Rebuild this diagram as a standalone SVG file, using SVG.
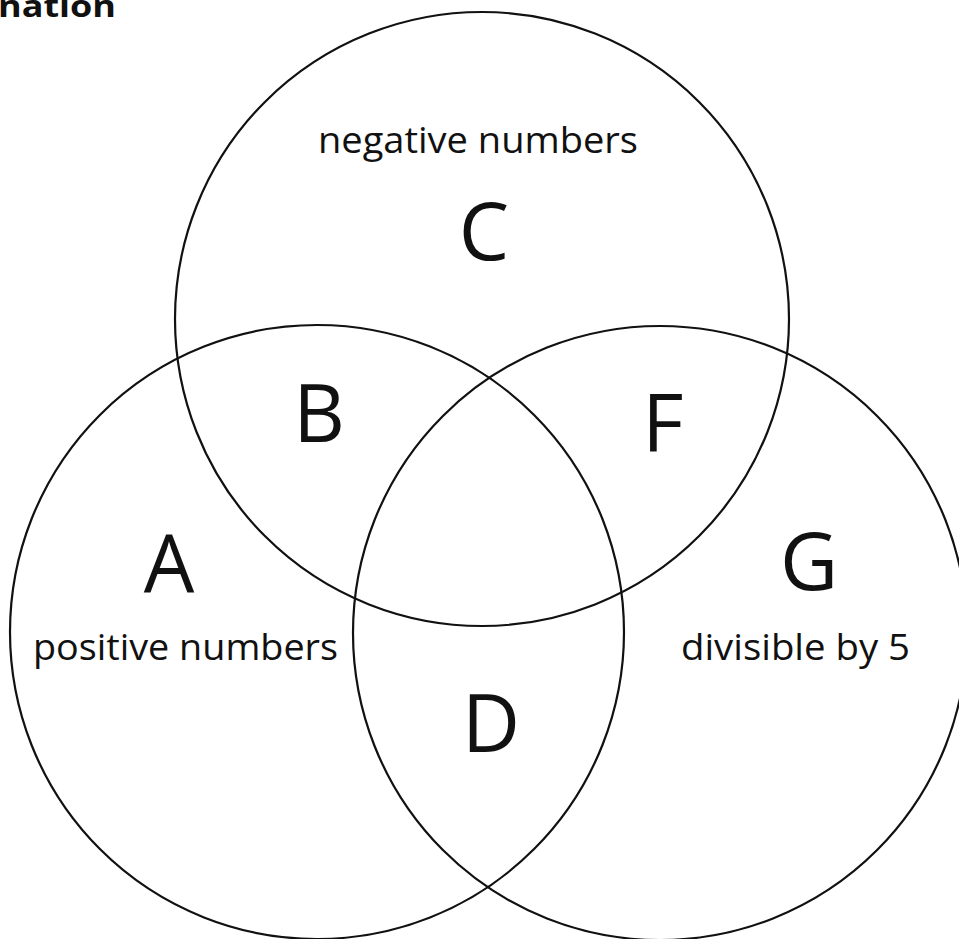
<svg xmlns="http://www.w3.org/2000/svg" width="959" height="939" viewBox="0 0 959 939">
<style>
.set{fill:none;stroke:#111;stroke-width:2.2}
.big{font-family:"Open Sans","Liberation Sans",sans-serif;font-size:80px;fill:#111;text-anchor:middle}
.lbl{font-family:"Open Sans","Liberation Sans",sans-serif;font-size:37px;fill:#111}
.ttl{font-family:"Open Sans","Liberation Sans",sans-serif;font-size:30px;font-weight:bold;fill:#111}
</style>
<rect width="959" height="939" fill="#fff"/>
<text class="ttl" x="-2" y="17" textLength="118" lengthAdjust="spacingAndGlyphs">nation</text>
<g id="circle-C">
<circle class="set" cx="482" cy="319" r="307"/>
<text class="lbl" x="318" y="153" textLength="320" lengthAdjust="spacingAndGlyphs">negative numbers</text>
<text class="big" x="484" y="260">C</text>
</g>
<g id="circle-A">
<circle class="set" cx="317" cy="632" r="307"/>
<text class="big" x="169" y="592">A</text>
<text class="lbl" x="33" y="660" textLength="305" lengthAdjust="spacingAndGlyphs">positive numbers</text>
</g>
<g id="circle-G">
<circle class="set" cx="660" cy="633" r="307"/>
<text class="big" x="809" y="590">G</text>
<text class="lbl" x="681" y="660" textLength="229" lengthAdjust="spacingAndGlyphs">divisible by 5</text>
</g>
<g id="region-B"><text class="big" x="319" y="442">B</text></g>
<g id="region-F"><text class="big" x="663" y="452">F</text></g>
<g id="region-D"><text class="big" x="491" y="752">D</text></g>
<g id="connectors"></g>
</svg>
